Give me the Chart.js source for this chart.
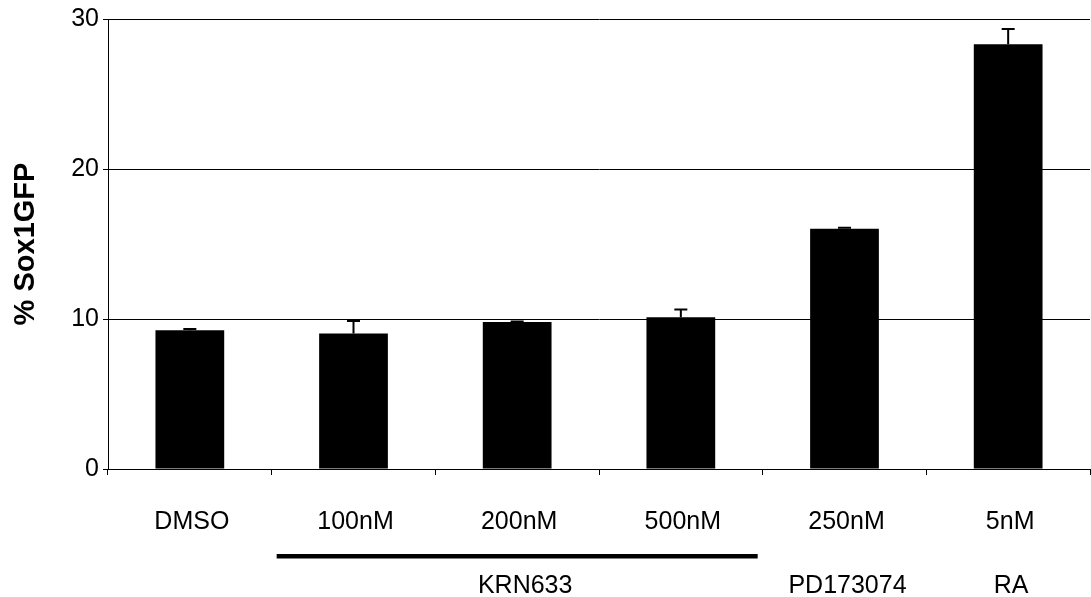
<!DOCTYPE html>
<html>
<head>
<meta charset="utf-8">
<script src="https://cdn.jsdelivr.net/npm/chart.js@4"></script>
<style>
  html, body { margin: 0; padding: 0; background: #fff; }
  #wrap { width: 1091px; height: 597px; position: relative; }
</style>
</head>
<body>
<div id="wrap"><canvas id="c"></canvas></div>
<script>
// Treatment concentrations (x categories)
const categories = ['DMSO', '100nM', '200nM', '500nM', '250nM', '5nM'];
// Mean % Sox1GFP per treatment
const sox1Values = [9.25, 9.03, 9.80, 10.11, 16.01, 28.32];
// Upper error (SEM) per treatment
const sox1Errors = [0.08, 0.84, 0.03, 0.52, 0.07, 1.02];
// Compound groups under the concentrations: label, first and last category index
const groupNames = ['KRN633', 'PD173074', 'RA'];
const groupFirst = [1, 4, 5];
const groupLast = [3, 4, 5];
const groupUnderline = [true, false, false];
// Y axis ticks
const yTicks = [0, 10, 20, 30];

const FONT = '"Liberation Sans", Arial, sans-serif';

// Upward error bars with caps
const errorBarPlugin = {
  id: 'errorBars',
  afterDatasetsDraw(chart) {
    const { ctx, scales: { x, y } } = chart;
    ctx.save();
    ctx.strokeStyle = '#000';
    ctx.lineWidth = 2;
    sox1Values.forEach((v, i) => {
      const px = x.getPixelForValue(i);
      const top = y.getPixelForValue(v + sox1Errors[i]);
      const base = y.getPixelForValue(v);
      ctx.beginPath();
      ctx.moveTo(px, base);
      ctx.lineTo(px, top);
      ctx.moveTo(px - 6.5, top);
      ctx.lineTo(px + 6.5, top);
      ctx.stroke();
    });
    ctx.restore();
  }
};

// Compound names and the bar spanning the KRN633 doses
const groupPlugin = {
  id: 'groups',
  afterDraw(chart) {
    const { ctx, scales: { x } } = chart;
    const half = (x.getPixelForValue(1) - x.getPixelForValue(0)) / 2;
    ctx.save();
    ctx.fillStyle = '#000';
    ctx.font = '25px ' + FONT;
    ctx.textAlign = 'center';
    ctx.textBaseline = 'middle';
    groupNames.forEach((name, g) => {
      const x0 = x.getPixelForValue(groupFirst[g]);
      const x1 = x.getPixelForValue(groupLast[g]);
      const cx = (x0 + x1) / 2;
      if (groupUnderline[g]) {
        ctx.fillRect(x0 - half + 5, 554, (x1 - x0) + 2 * half - 10, 4.5);
        ctx.fillText(name, cx + 8, 586);
      } else {
        ctx.fillText(name, cx + 3, 586);
      }
    });
    ctx.restore();
  }
};

new Chart(document.getElementById('c'), {
  type: 'bar',
  data: {
    labels: categories,
    datasets: [{
      data: sox1Values,
      backgroundColor: '#000',
      borderWidth: 0,
      categoryPercentage: 1,
      barPercentage: 0.42
    }]
  },
  options: {
    responsive: true,
    maintainAspectRatio: false,
    animation: false,
    layout: { padding: { top: 18, right: 1, bottom: 0, left: 0 } },
    plugins: { legend: { display: false }, tooltip: { enabled: false } },
    scales: {
      x: {
        offset: true,
        grid: {
          offset: true,
          drawOnChartArea: false,
          drawTicks: true,
          tickLength: 6,
          color: '#000',
          lineWidth: 1
        },
        border: { display: true, color: '#000', width: 1 },
        ticks: {
          color: '#000',
          font: { family: FONT, size: 25 },
          padding: 32,
          labelOffset: 2,
          maxRotation: 0,
          autoSkip: false
        },
        afterFit(scale) { scale.height = 128; }
      },
      y: {
        min: 0,
        max: 30,
        afterBuildTicks(scale) { scale.ticks = yTicks.map(v => ({ value: v })); },
        grid: {
          color: '#000',
          lineWidth: 1,
          drawTicks: true,
          tickLength: 5
        },
        border: { display: true, color: '#000', width: 1 },
        ticks: {
          color: '#000',
          font: { family: FONT, size: 25 },
          padding: 4
        },
        title: {
          display: true,
          text: '% Sox1GFP',
          color: '#000',
          font: { family: FONT, size: 29, weight: 'bold' },
          padding: { top: 9, bottom: 0 }
        },
        afterFit(scale) { scale.width = 108; }
      }
    }
  },
  plugins: [errorBarPlugin, groupPlugin]
});
</script>
</body>
</html>
